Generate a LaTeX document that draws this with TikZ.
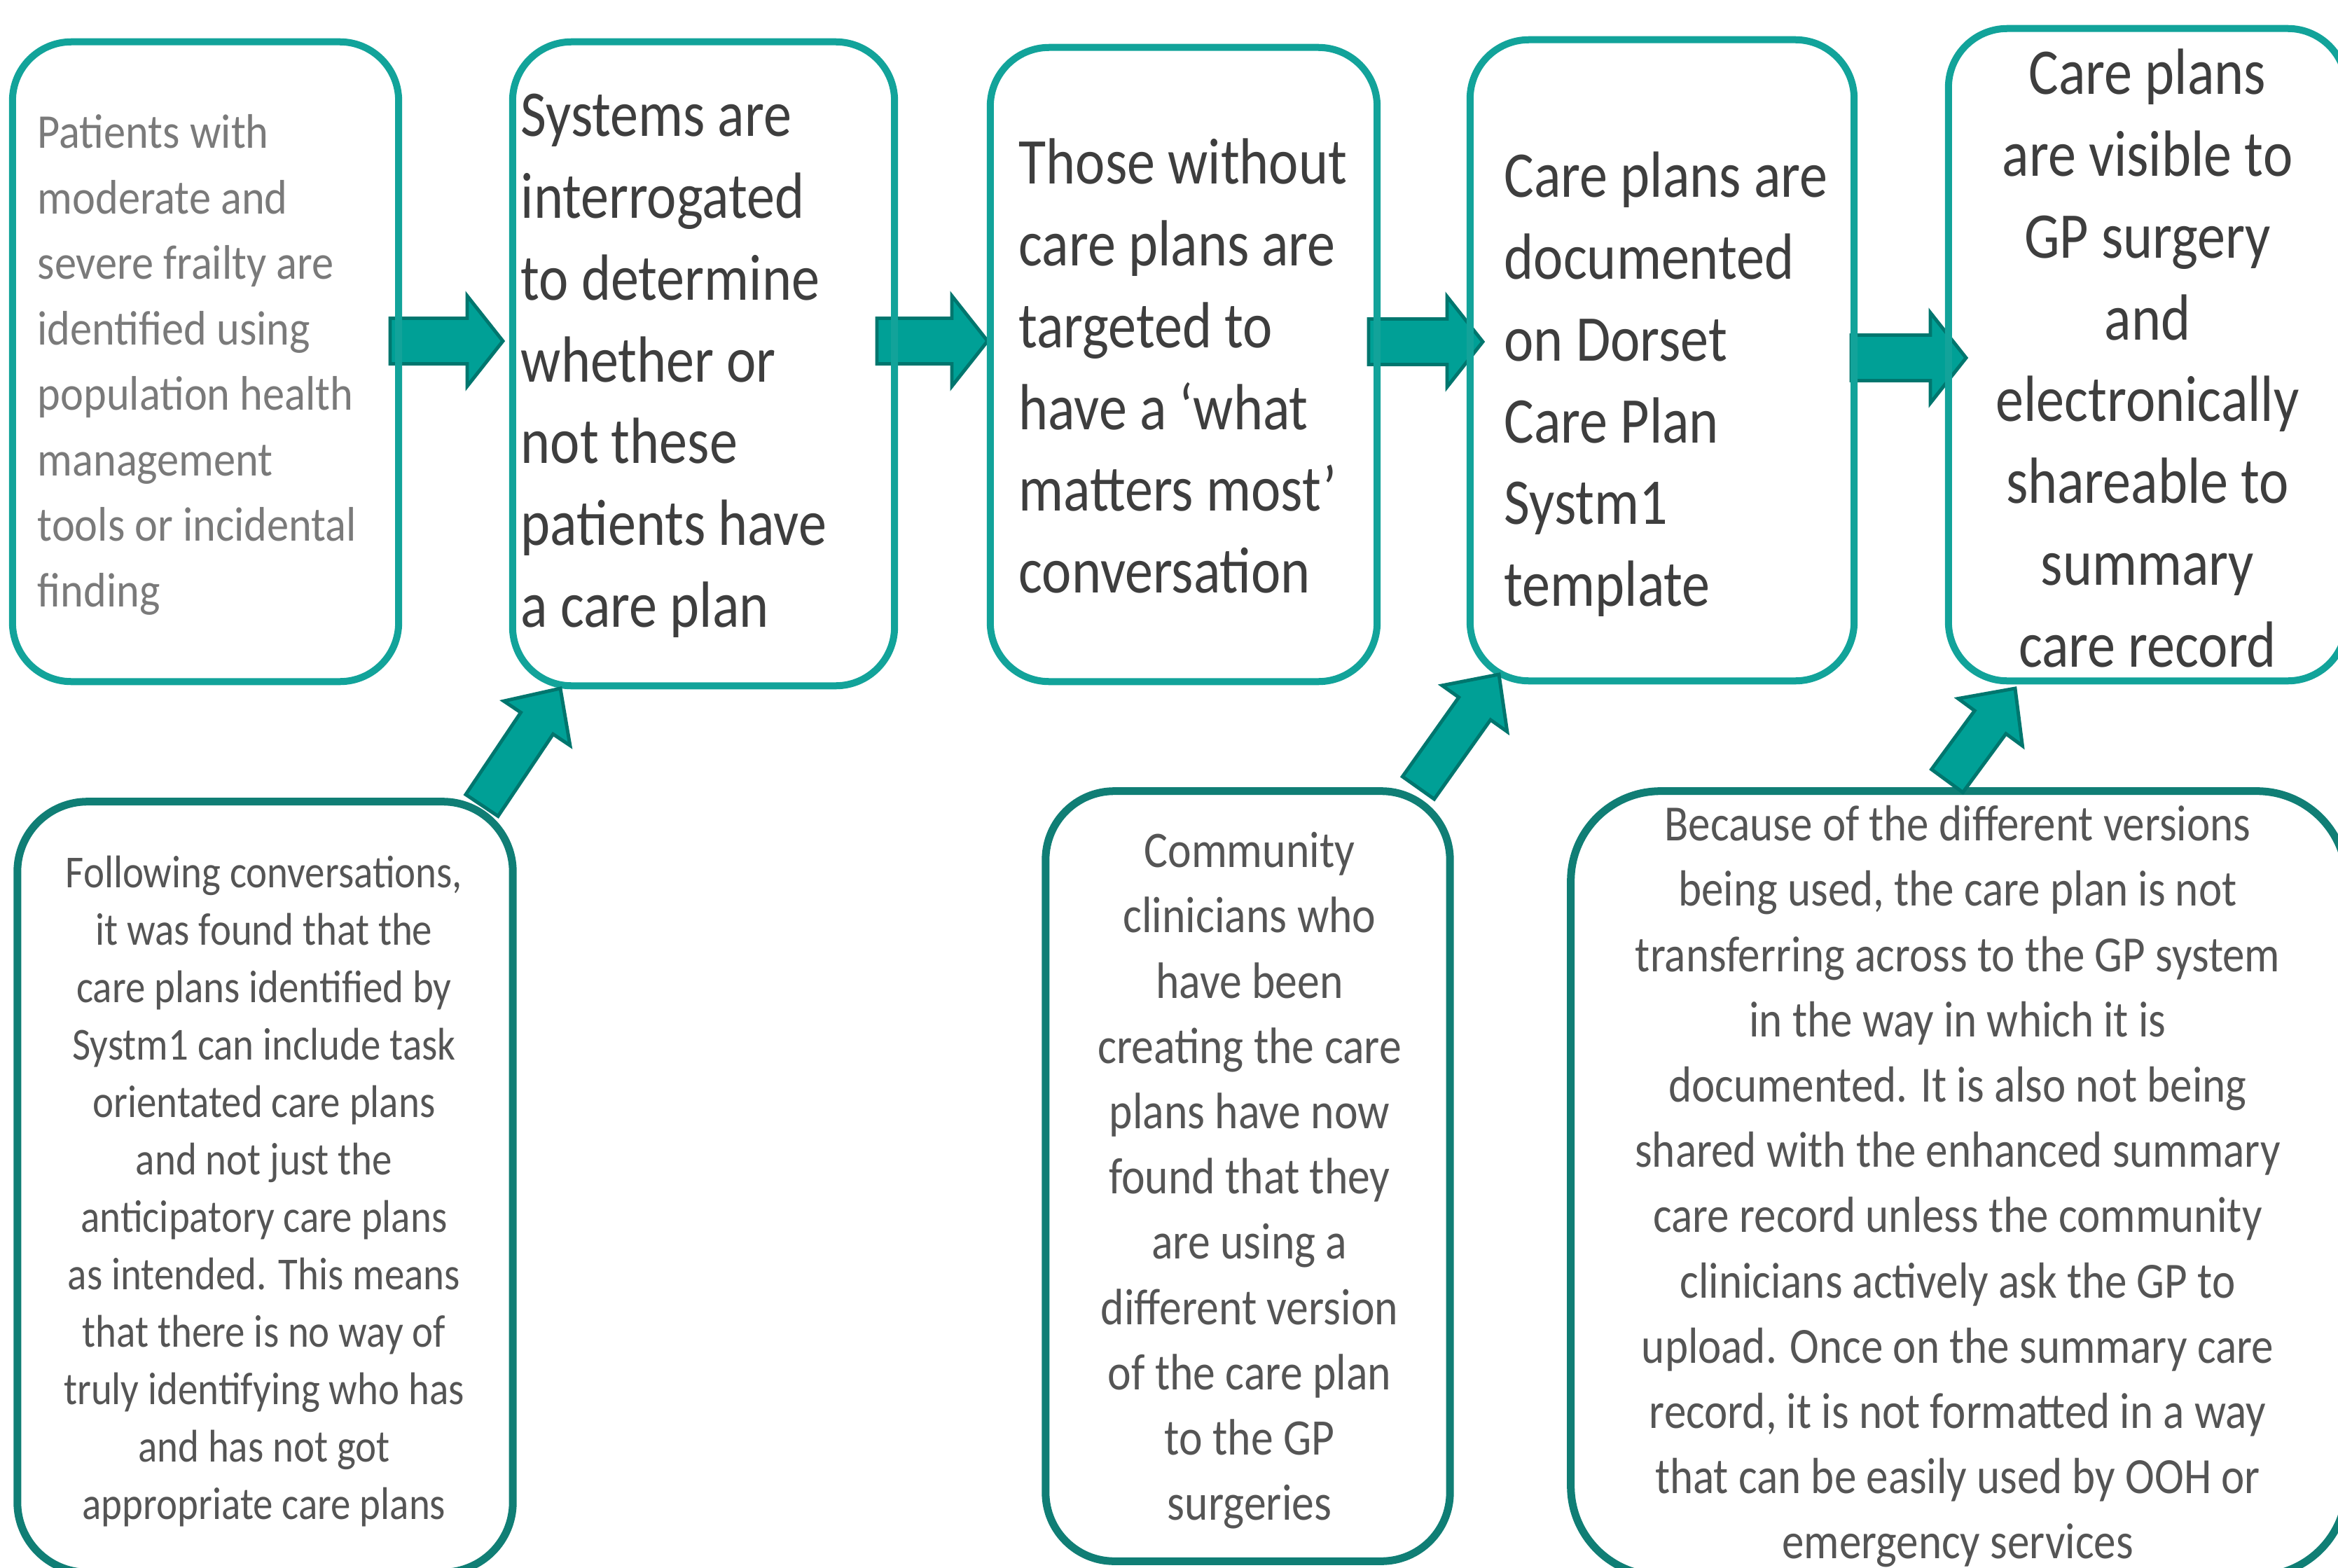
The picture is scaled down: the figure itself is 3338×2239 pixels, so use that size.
\documentclass[tikz,border=0pt]{standalone}
\usepackage{fontspec}
\usetikzlibrary{calc}
\newfontfamily\fa[FakeStretch=0.90]{Carlito}
\newfontfamily\fb[FakeStretch=0.86]{Carlito}
\newfontfamily\fc[FakeStretch=0.87]{Carlito}
\definecolor{tealtop}{RGB}{18,163,154}
\definecolor{tealbot}{RGB}{16,126,117}
\definecolor{arrfill}{RGB}{0,160,150}
\definecolor{arrline}{RGB}{0,118,110}
\definecolor{txtlight}{RGB}{122,122,122}
\definecolor{txtdark}{RGB}{62,62,62}
\definecolor{txtmid}{RGB}{85,85,85}
\newcommand{\fst}{\rule{0pt}{0.8em}}
\newcommand{\blockarrow}[5]{%
  \filldraw[arrowsty] let \p1=($(#2)-(#1)$), \n1={atan2(\y1,\x1)}, \n2={veclen(\x1,\y1)} in
    ($(#1)+(\n1+90:#3)$) --
    ($(#1)+(\n1:{\n2*1pt-#5})+(\n1+90:#3)$) --
    ($(#1)+(\n1:{\n2*1pt-#5})+(\n1+90:#4)$) --
    (#2) --
    ($(#1)+(\n1:{\n2*1pt-#5})+(\n1-90:#4)$) --
    ($(#1)+(\n1:{\n2*1pt-#5})+(\n1-90:#3)$) --
    ($(#1)+(\n1-90:#3)$) -- cycle;}
\tikzset{
  topbox/.style={draw=tealtop, line width=0.10cm, rounded corners=0.84cm, inner sep=0pt},
  botbox/.style={draw=tealbot, line width=0.11cm, inner sep=0pt},
  arrowsty/.style={fill=arrfill, draw=arrline, line width=1.4pt, line join=miter},
  ltxt/.style={inner sep=0pt, anchor=north west, align=left},
  ctxt/.style={inner sep=0pt, anchor=north, align=center},
  fonttop/.style={font=\fb\fontsize{26.5pt}{33.2pt}\selectfont, text=txtdark},
}
\begin{document}
\begin{tikzpicture}[x=0.01cm, y=-0.01cm]
\useasboundingbox (0,0) rectangle (3338,2239);
\clip (0,0) rectangle (3338,2239);
\fill[white] (0,0) rectangle (3338,2239);

% arrow end points
\coordinate (h1a) at (557,487);  \coordinate (h1b) at (718,487);
\coordinate (h2a) at (1252,487); \coordinate (h2b) at (1410,487);
\coordinate (h3a) at (1954,488); \coordinate (h3b) at (2117,488);
\coordinate (h4a) at (2643,511); \coordinate (h4b) at (2807,511);
\coordinate (d1a) at (688,1150); \coordinate (d1b) at (800,983);
\coordinate (d2a) at (2025,1125); \coordinate (d2b) at (2140,963);
\coordinate (d3a) at (2780,1115); \coordinate (d3b) at (2877,983);

% horizontal arrows (below boxes)
\blockarrow{h1a}{h1b}{9.25pt}{18.35pt}{14.5pt}
\blockarrow{h2a}{h2b}{9.25pt}{18.35pt}{14.5pt}
\blockarrow{h3a}{h3b}{9.25pt}{18.35pt}{14.5pt}
\blockarrow{h4a}{h4b}{9.25pt}{18.35pt}{14.5pt}

% top boxes
\node[topbox, minimum width=5.51cm, minimum height=9.13cm] (t1) at (293.5,516.5) {};
\node[topbox, minimum width=5.45cm, minimum height=9.19cm] (t2) at (1004.5,519.5) {};
\node[topbox, minimum width=5.52cm, minimum height=9.05cm] (t3) at (1690,520.5) {};
\node[topbox, minimum width=5.48cm, minimum height=9.15cm] (t4) at (2373,514.5) {};
\node[topbox, minimum width=5.68cm, minimum height=9.31cm] (t5) at (3066,506.5) {};

% bottom boxes
\node[botbox, rounded corners=1.0cm, minimum width=7.07cm, minimum height=11.0cm] (b1) at (378.5,1695) {};
\node[botbox, rounded corners=0.98cm, minimum width=5.77cm, minimum height=10.99cm] (b2) at (1781.5,1679.5) {};
\node[botbox, rounded corners=1.28cm, minimum width=11.07cm, minimum height=11.2cm] (b3) at (2796.5,1690) {};

% texts
\node[ltxt, font=\fa\fontsize{19.7pt}{26.6pt}\selectfont, text=txtlight] (t1t) at (53,155.6)
 {\fst Patients with\\moderate and\\severe frailty are\\identified using\\population health\\management\\tools or incidental\\finding};
\node[ltxt, fonttop] (t2t) at (743,119.5)
 {\fst Systems are\\interrogated\\to determine\\whether or\\not these\\patients have\\a care plan};
\node[ltxt, fonttop] (t3t) at (1454,187.5)
 {\fst Those without\\care plans are\\targeted to\\have a ‘what\\matters most’\\conversation};
\node[ltxt, fonttop] (t4t) at (2147,206.5)
 {\fst Care plans are\\documented\\on Dorset\\Care Plan\\Systm1\\template};
\node[ctxt, fonttop] (t5t) at (3066,59.5)
 {\fst Care plans\\are visible to\\GP surgery\\and\\electronically\\shareable to\\summary\\care record};

\node[ctxt, font=\fc\fontsize{18.6pt}{23.3pt}\selectfont, text=txtmid] (b1t) at (377,1214.7)
 {\fst Following conversations,\\it was found that the\\care plans identified by\\Systm1 can include task\\orientated care plans\\and not just the\\anticipatory care plans\\as intended. This means\\that there is no way of\\truly identifying who has\\and has not got\\appropriate care plans};
\node[ctxt, font=\fc\fontsize{20.8pt}{26.5pt}\selectfont, text=txtmid] (b2t) at (1784,1179.5)
 {\fst Community\\clinicians who\\have been\\creating the care\\plans have now\\found that they\\are using a\\different version\\of the care plan\\to the GP\\surgeries};
\node[ctxt, font=\fc\fontsize{20.6pt}{26.5pt}\selectfont, text=txtmid] (b3t) at (2795,1142.1)
 {\fst Because of the different versions\\being used, the care plan is not\\transferring across to the GP system\\in the way in which it is\\documented. It is also not being\\shared with the enhanced summary\\care record unless the community\\clinicians actively ask the GP to\\upload. Once on the summary care\\record, it is not formatted in a way\\that can be easily used by OOH or\\emergency services};

% diagonal arrows (above boxes)
\blockarrow{d1a}{d1b}{7.9pt}{16.2pt}{17pt}
\blockarrow{d2a}{d2b}{7.9pt}{16.2pt}{17pt}
\blockarrow{d3a}{d3b}{7.9pt}{16.2pt}{17pt}
\end{tikzpicture}
\end{document}
